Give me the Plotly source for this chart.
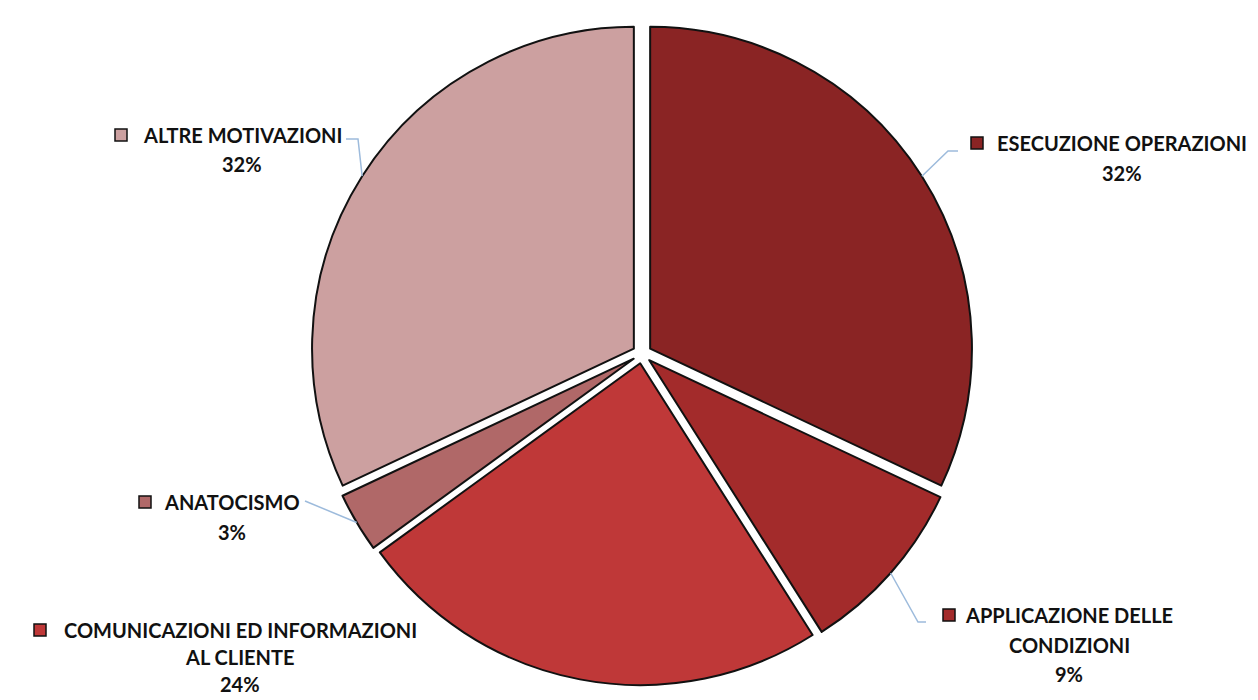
import math
import plotly.graph_objects as go

labels = ["ESECUZIONE OPERAZIONI", "APPLICAZIONE DELLE CONDIZIONI",
          "COMUNICAZIONI ED INFORMAZIONI AL CLIENTE", "ANATOCISMO", "ALTRE MOTIVAZIONI"]
label_lines = [["ESECUZIONE OPERAZIONI"], ["APPLICAZIONE DELLE", "CONDIZIONI"],
               ["COMUNICAZIONI ED INFORMAZIONI", "AL CLIENTE"], ["ANATOCISMO"],
               ["ALTRE MOTIVAZIONI"]]
values = [32, 9, 24, 3, 32]
colors = ["#8a2424", "#a32b2b", "#bf3838", "#b06868", "#cca0a0"]

W, H = 1258, 700
PULL = 0.03
DOM_Y = [0.0325, 0.9795]
CX = 634  # pie centre in px

fig = go.Figure()
fig.add_trace(go.Pie(
    labels=labels, values=values, sort=False, direction="clockwise", rotation=0,
    pull=PULL, textinfo="none", hoverinfo="label+percent",
    marker=dict(colors=colors, line=dict(color="#111111", width=2)),
    domain=dict(x=[CX / W - 0.45, CX / W + 0.45], y=DOM_Y), showlegend=False,
))


def px(x, y):
    return x / W, 1 - y / H


# pie geometry in pixels (same as plotly's own sizing)
cx = CX
cy = (1 - (DOM_Y[0] + DOM_Y[1]) / 2) * H
r = (DOM_Y[1] - DOM_Y[0]) * H / (2 + 2 * PULL)

total = sum(values)
edge = []
cum = 0
for v in values:
    mid = (cum + v / 2) / total * 2 * math.pi
    cum += v
    rr = r * (1 + PULL)
    edge.append((cx + rr * math.sin(mid), cy - rr * math.cos(mid)))

# label layout: text centre x and first line y (px), square box (px), leader bend points (px)
label_pos = [(1114, 135), (1061, 607), (232, 622), (224, 494), (234, 127)]
line_gap = [29.5, 29.5, 27, 29.5, 29.5]
squares = [(963, 129), (935, 601), (26, 616), (131, 488), (107, 121)]
leaders = [[(940, 143), (950, 143)], [(910, 614), (918, 614)], None,
           [(297, 493)], [(350, 131), (338, 131)]]

font = dict(family="Lato, Open Sans, sans-serif", size=20, color="#111111")
for i in range(len(values)):
    pct = round(values[i] / total * 100)
    lines = label_lines[i] + ["%d%%" % pct]
    tx, ty = label_pos[i]
    for k, line in enumerate(lines):
        x, y = px(tx, ty + k * line_gap[i])
        fig.add_annotation(x=x, y=y, xref="paper", yref="paper", showarrow=False,
                           text="<b>%s</b>" % line, font=font, borderpad=0,
                           xanchor="center", yanchor="middle")
    sx, sy = squares[i]
    x0, y0 = px(sx, sy)
    x1, y1 = px(sx + 12, sy + 12)
    fig.add_shape(type="rect", xref="paper", yref="paper", x0=x0, y0=y0, x1=x1, y1=y1,
                  fillcolor=colors[i], line=dict(color="#111111", width=1.5))
    if leaders[i]:
        pts = [edge[i]] + leaders[i]
        path = "M " + " L ".join("%f,%f" % px(a, b) for a, b in pts)
        fig.add_shape(type="path", xref="paper", yref="paper", path=path,
                      line=dict(color="#9dbbdc", width=1.5))

fig.update_layout(width=W, height=H, margin=dict(l=0, r=0, t=0, b=0),
                  paper_bgcolor="white", plot_bgcolor="white")
fig.write_html("out.html")
